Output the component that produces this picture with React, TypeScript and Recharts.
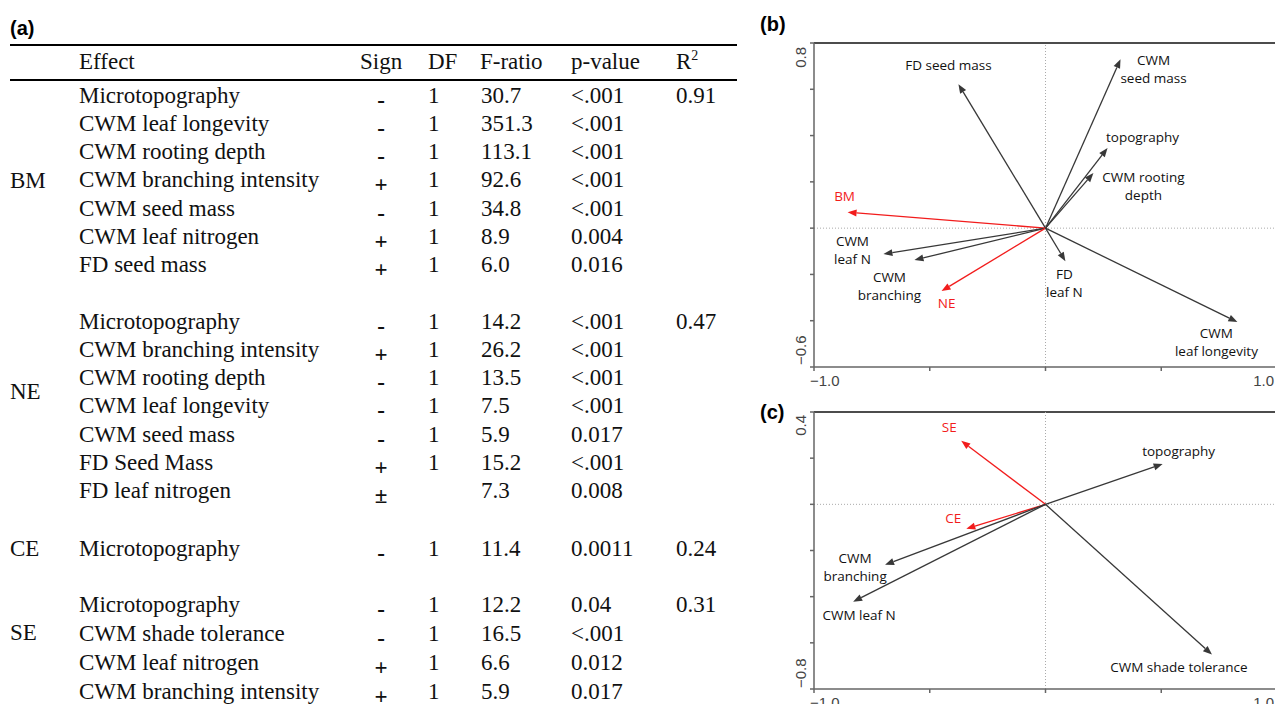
import React from "react";
import { ScatterChart, Scatter, XAxis, YAxis, ReferenceLine } from "recharts";

// ---------- (a) table ----------
const groups = ["BM", "NE", "CE", "SE"];
const effects = [
  ["Microtopography", "CWM leaf longevity", "CWM rooting  depth", "CWM branching intensity", "CWM seed mass", "CWM leaf nitrogen", "FD seed mass"],
  ["Microtopography", "CWM branching intensity", "CWM rooting  depth", "CWM leaf longevity", "CWM seed mass", "FD Seed Mass", "FD leaf nitrogen"],
  ["Microtopography"],
  ["Microtopography", "CWM shade tolerance", "CWM leaf nitrogen", "CWM branching intensity"],
];
const signs = [
  ["-", "-", "-", "+", "-", "+", "+"],
  ["-", "+", "-", "-", "-", "+", "±"],
  ["-"],
  ["-", "-", "+", "+"],
];
const dfs = [
  ["1", "1", "1", "1", "1", "1", "1"],
  ["1", "1", "1", "1", "1", "1", ""],
  ["1"],
  ["1", "1", "1", "1"],
];
const fRatios = [
  [30.7, 351.3, 113.1, 92.6, 34.8, 8.9, 6.0],
  [14.2, 26.2, 13.5, 7.5, 5.9, 15.2, 7.3],
  [11.4],
  [12.2, 16.5, 6.6, 5.9],
];
const pValues = [
  ["<.001", "<.001", "<.001", "<.001", "<.001", "0.004", "0.016"],
  ["<.001", "<.001", "<.001", "<.001", "0.017", "<.001", "0.008"],
  ["0.0011"],
  ["0.04", "<.001", "0.012", "0.017"],
];
const rSquared = ["0.91", "0.47", "0.24", "0.31"];

// ---------- (b) biplot ----------
const bLabels = ["FD seed mass", "CWM\nseed mass", "topography", "CWM rooting\ndepth", "BM", "CWM\nleaf N", "CWM\nbranching", "NE", "FD\nleaf N", "CWM\nleaf longevity"];
const bX = [-0.376, 0.324, 0.268, 0.207, -0.855, -0.7, -0.566, -0.449, 0.086, 0.829];
const bY = [0.622, 0.73, 0.346, 0.238, 0.069, -0.112, -0.138, -0.272, -0.143, -0.406];
const bResponses = ["BM", "NE"];

// ---------- (c) biplot ----------
const cLabels = ["SE", "topography", "CE", "CWM\nbranching", "CWM leaf N", "CWM shade tolerance"];
const cX = [-0.364, 0.506, -0.342, -0.693, -0.831, 0.719];
const cY = [0.275, 0.175, -0.106, -0.262, -0.422, -0.651];
const cResponses = ["SE", "CE"];

const xTicks = [-1, -0.5, 0, 0.5, 1];
const bYTicks = [-0.6, -0.4, -0.2, 0, 0.2, 0.4, 0.6, 0.8];
const cYTicks = [-0.8, -0.6, -0.4, -0.2, 0, 0.2, 0.4];

// label offsets (px) from arrow tip
const bLabelOffset = [[-10, -19], [33, 1], [35, -11], [50, 4], [-3, -16], [-31, -13], [-25, 17], [5, 12], [-1, 13], [-21, 11]];
const cLabelOffset = [[-12, -14], [16, -13], [-13, -11], [-30, -7], [6, 13], [-33, 12]];

const RED = "#f21c1c";
const DARK = "#383838";
const labelFont = "'Open Sans', sans-serif";
const tickFont = "'Liberation Sans', Arial, sans-serif";

const arrowShape = (color: string) => (props: any) => {
  const { x1, y1, x2, y2 } = props;
  const a = Math.atan2(y2 - y1, x2 - x1);
  const len = 9;
  const half = 3.5;
  const bx = x2 - len * Math.cos(a);
  const by = y2 - len * Math.sin(a);
  const px = -Math.sin(a) * half;
  const py = Math.cos(a) * half;
  return (
    <g>
      <line x1={x1} y1={y1} x2={bx} y2={by} stroke={color} strokeWidth={1.3} />
      <polygon points={`${x2},${y2} ${bx + px},${by + py} ${bx - px},${by - py}`} fill={color} />
    </g>
  );
};

const labelShape = (offsets: number[][], responses: string[]) => (props: any) => {
  const { cx, cy, payload } = props;
  const [dx, dy] = offsets[payload.i];
  const lines = String(payload.label).split("\n");
  const red = responses.includes(payload.label);
  return (
    <text
      x={cx + dx}
      y={cy + dy}
      textAnchor="middle"
      dominantBaseline="central"
      fontFamily={labelFont}
      fontSize={13.5}
      fill={red ? RED : "#111"}
    >
      {lines.map((l, k) => (
        <tspan key={k} x={cx + dx} y={cy + dy + k * 18} dominantBaseline="central">
          {l}
        </tspan>
      ))}
    </text>
  );
};

const fmt = (v: number) => v.toFixed(1).replace("-", "\u2212");

const makeYTick = (top: number, bottom: number, topShift: number, bottomShift: number) => (props: any) => {
  const { x, y, payload } = props;
  const v = payload.value;
  if (v !== top && v !== bottom) return <g />;
  const isTop = v === top;
  const ty = isTop ? y + topShift : y - bottomShift;
  const tx = x - 8;
  return (
    <text
      x={tx}
      y={ty}
      transform={`rotate(-90 ${tx} ${ty})`}
      textAnchor={isTop ? "end" : "start"}
      dominantBaseline="central"
      fontFamily={tickFont}
      fontSize={15}
      fill="#444"
    >
      {fmt(v)}
    </text>
  );
};

const XTick = (props: any) => {
  const { x, y, payload } = props;
  const v = payload.value;
  if (v !== -1 && v !== 1) return <g />;
  return (
    <text
      x={v === -1 ? x - 4 : x + 1}
      y={y + 7}
      textAnchor={v === -1 ? "start" : "end"}
      dominantBaseline="central"
      fontFamily={tickFont}
      fontSize={15}
      fill="#444"
    >
      {fmt(v)}
    </text>
  );
};

type BiplotProps = {
  labels: string[];
  xs: number[];
  ys: number[];
  responses: string[];
  offsets: number[][];
  yDomain: [number, number];
  yTicks: number[];
  plotHeight: number;
  topShift: number;
  bottomShift: number;
};

function Biplot({ labels, xs, ys, responses, offsets, yDomain, yTicks, plotHeight, topShift, bottomShift }: BiplotProps) {
  const tips = labels.map((label, i) => ({ x: xs[i], y: ys[i], label, i }));
  return (
    <ScatterChart width={517} height={43 + plotHeight + 30} margin={{ top: 43, right: 0, bottom: 0, left: 14 }}>
      <XAxis
        type="number"
        dataKey="x"
        domain={[-1, 1]}
        ticks={xTicks}
        allowDataOverflow
        height={30}
        tickSize={4}
        stroke="#666"
        strokeWidth={1.5}
        tick={XTick}
      />
      <YAxis
        type="number"
        dataKey="y"
        domain={yDomain}
        ticks={yTicks}
        allowDataOverflow
        width={40}
        tickSize={4}
        stroke="#666"
        strokeWidth={1.5}
        tick={makeYTick(yDomain[1], yDomain[0], topShift, bottomShift)}
      />
      <ReferenceLine y={yDomain[1]} stroke="#111" strokeWidth={1.5} />
      <ReferenceLine x={0} stroke="#aaa" strokeDasharray="1 2" />
      <ReferenceLine y={0} stroke="#aaa" strokeDasharray="1 2" />
      {tips.map((t) => (
        <ReferenceLine
          key={t.label}
          segment={[{ x: 0, y: 0 }, { x: t.x, y: t.y }]}
          ifOverflow="visible"
          shape={arrowShape(responses.includes(t.label) ? RED : DARK)}
        />
      ))}
      <Scatter data={tips} isAnimationActive={false} shape={labelShape(offsets, responses)} />
    </ScatterChart>
  );
}

// table layout
const groupStartY = [95, 321, 548, 604];
const groupRowStep = [28.3, 28.3, 28.3, 29.3];
const groupLabelY = [180, 391, 548, 632];
const serif = "'Liberation Serif', 'Times New Roman', serif";

function Table() {
  const cell = (x: number, y: number, s: string, extra: any = {}) => (
    <text x={x} y={y} dominantBaseline="central" fontFamily={serif} fontSize={23} fill="#111" {...extra}>
      {s}
    </text>
  );
  return (
    <svg width={760} height={704} style={{ position: "absolute", left: 0, top: 0 }}>
      <text x={10} y={28} dominantBaseline="central" fontFamily={tickFont} fontWeight="bold" fontSize={20} fill="#000">
        (a)
      </text>
      <line x1={10} x2={737} y1={45} y2={45} stroke="#000" strokeWidth={2} />
      {cell(79, 61, "Effect")}
      {cell(360, 61, "Sign")}
      {cell(428, 61, "DF")}
      {cell(480, 61, "F-ratio")}
      {cell(571, 61, "p-value")}
      <text x={676} y={61} dominantBaseline="central" fontFamily={serif} fontSize={23} fill="#111">
        R<tspan fontSize={14} dy={-6}>2</tspan>
      </text>
      <line x1={10} x2={737} y1={80} y2={80} stroke="#000" strokeWidth={2} />
      {groups.map((g, gi) => (
        <g key={g}>
          {cell(10, groupLabelY[gi], g)}
          {effects[gi].map((e, ri) => {
            const y = groupStartY[gi] + ri * groupRowStep[gi];
            return (
              <g key={ri}>
                {cell(79, y, e)}
                {cell(381, y + 5, signs[gi][ri], { textAnchor: "middle", fontWeight: "bold" })}
                {cell(428, y, dfs[gi][ri])}
                {cell(481, y, fRatios[gi][ri].toFixed(1))}
                {cell(571, y, pValues[gi][ri])}
                {ri === 0 ? cell(676, y, rSquared[gi]) : null}
              </g>
            );
          })}
        </g>
      ))}
    </svg>
  );
}

export default function App() {
  return (
    <div
      style={{
        position: "absolute",
        left: 0,
        top: 0,
        width: 1275,
        height: 704,
        overflow: "hidden",
        background: "#fff",
      }}
    >
      <Table />
      <div style={{ position: "absolute", left: 760, top: 0 }}>
        <Biplot
          labels={bLabels}
          xs={bX}
          ys={bY}
          responses={bResponses}
          offsets={bLabelOffset}
          yDomain={[-0.6, 0.8]}
          yTicks={bYTicks}
          plotHeight={324}
          topShift={4}
          bottomShift={2}
        />
      </div>
      <div style={{ position: "absolute", left: 760, top: 369 }}>
        <Biplot
          labels={cLabels}
          xs={cX}
          ys={cY}
          responses={cResponses}
          offsets={cLabelOffset}
          yDomain={[-0.8, 0.4]}
          yTicks={cYTicks}
          plotHeight={277}
          topShift={3}
          bottomShift={1}
        />
      </div>
      <div
        style={{
          position: "absolute",
          left: 760,
          top: 13,
          fontFamily: tickFont,
          fontWeight: "bold",
          fontSize: 20,
          color: "#000",
        }}
      >
        (b)
      </div>
      <div
        style={{
          position: "absolute",
          left: 760,
          top: 401,
          fontFamily: tickFont,
          fontWeight: "bold",
          fontSize: 20,
          color: "#000",
        }}
      >
        (c)
      </div>
    </div>
  );
}
